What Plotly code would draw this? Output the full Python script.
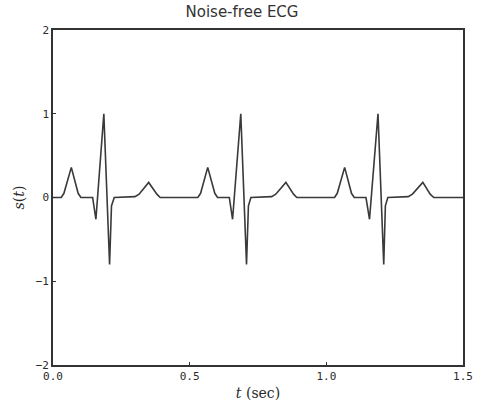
import plotly.graph_objects as go

# Breakpoints of the noise-free ECG trace
t_sec = [0.000, 0.030, 0.040, 0.067, 0.092, 0.102, 0.145, 0.157, 0.186, 0.207, 0.214, 0.224,
         0.300, 0.315, 0.350, 0.380, 0.392,
         0.530, 0.540, 0.566, 0.592, 0.602, 0.645, 0.657, 0.687, 0.708, 0.715, 0.724,
         0.800, 0.815, 0.852, 0.880, 0.892,
         1.030, 1.040, 1.067, 1.092, 1.102, 1.145, 1.158, 1.189, 1.210, 1.216, 1.225,
         1.300, 1.315, 1.353, 1.380, 1.393, 1.500]
s_val = [0.00, 0.00, 0.05, 0.36, 0.05, 0.00, 0.00, -0.26, 1.00, -0.80, -0.10, 0.00,
         0.01, 0.04, 0.18, 0.04, 0.00,
         0.00, 0.05, 0.36, 0.05, 0.00, 0.00, -0.26, 1.00, -0.80, -0.10, 0.00,
         0.01, 0.04, 0.18, 0.04, 0.00,
         0.00, 0.05, 0.36, 0.05, 0.00, 0.00, -0.26, 1.00, -0.80, -0.10, 0.00,
         0.01, 0.04, 0.18, 0.04, 0.00, 0.00]

x_ticks = [0.0, 0.5, 1.0, 1.5]
x_tick_text = ["0.0", "0.5", "1.0", "1.5"]
y_ticks = [-2, -1, 0, 1, 2]
y_tick_text = ["\u22122", "\u22121", "0", "1", "2"]

fig = go.Figure()
fig.add_trace(go.Scatter(x=t_sec, y=s_val, mode="lines",
                         line=dict(color="#3a3a3a", width=1.6), showlegend=False))

fig.update_layout(
    width=484, height=416,
    margin=dict(l=53, r=11, t=30, b=51),
    paper_bgcolor="white", plot_bgcolor="white",
    font=dict(family="DejaVu Sans", color="#2a2a2a"),
    title=dict(text="Noise-free ECG", x=0.5, xanchor="center", y=0.985, yanchor="top",
               font=dict(family="DejaVu Sans", size=15, color="#333")),
)
fig.update_xaxes(range=[0, 1.5], tickvals=x_ticks, ticktext=x_tick_text,
                 showgrid=False, zeroline=False, showline=True, mirror=True,
                 linecolor="#333", linewidth=1.6, ticks="inside", ticklen=3,
                 tickcolor="#333", tickfont=dict(size=11, family="DejaVu Sans Mono"),
                 title=dict(text="<i>t</i> (sec)", standoff=6,
                            font=dict(family="DejaVu Serif", size=14)))
fig.update_yaxes(range=[-2, 2], tickvals=y_ticks, ticktext=y_tick_text,
                 showgrid=False, zeroline=False, showline=True, mirror=True,
                 linecolor="#333", linewidth=1.6, ticks="inside", ticklen=3,
                 tickcolor="#333", tickfont=dict(size=11, family="DejaVu Sans Mono"),
                 title=dict(text="<i>s</i>(<i>t</i>)", standoff=8,
                            font=dict(family="DejaVu Serif", size=14)))

fig.write_html("out.html")
